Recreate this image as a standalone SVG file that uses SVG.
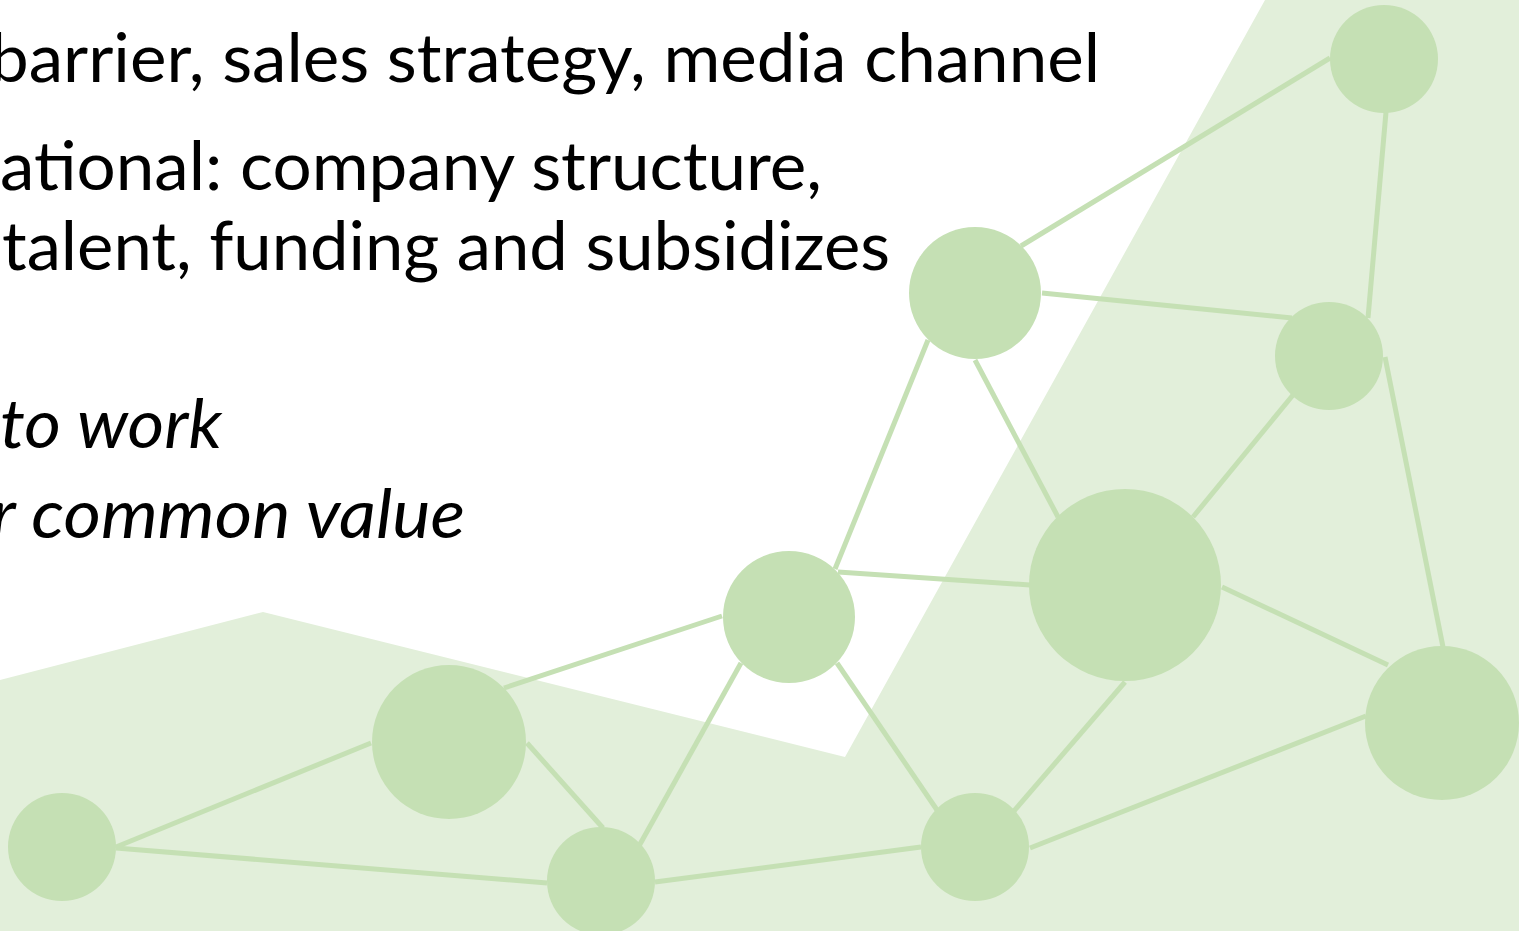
<svg xmlns="http://www.w3.org/2000/svg" width="1519" height="931" viewBox="0 0 1519 931">
<style>
.txt{font-family:Lato,"Open Sans","Liberation Sans",sans-serif;font-size:68px;fill:#000}
.it{font-style:italic}
.node{fill:#c5e0b4}
.edge{stroke:#c5e0b4;stroke-width:5;fill:none}
</style>
<rect width="1519" height="931" fill="#ffffff"/>
<polygon points="0,680 263,612 845,757 1265,0 1519,0 1519,931 0,931" fill="#e2efda"/>
<g id="text">
<text class="txt" x="-10" y="82" textLength="1110" lengthAdjust="spacingAndGlyphs">barrier, sales strategy, media channel</text>
<text class="txt" x="0" y="190" textLength="822" lengthAdjust="spacingAndGlyphs">ational: company structure,</text>
<text class="txt" x="2" y="270" textLength="888" lengthAdjust="spacingAndGlyphs">talent, funding and subsidizes</text>
<text class="txt it" x="0" y="448" textLength="222" lengthAdjust="spacingAndGlyphs">to work</text>
<text class="txt it" x="-9" y="538" textLength="474" lengthAdjust="spacingAndGlyphs">r common value</text>
</g>
<g id="connectors">
<line class="edge" x1="1330" y1="58" x2="1021" y2="246"/>
<line class="edge" x1="1386" y1="112" x2="1368" y2="318"/>
<line class="edge" x1="1042" y1="293" x2="1292" y2="318"/>
<line class="edge" x1="928" y1="340" x2="835" y2="569"/>
<line class="edge" x1="975" y1="360" x2="1058" y2="517"/>
<line class="edge" x1="1293" y1="395" x2="1193" y2="517"/>
<line class="edge" x1="1385" y1="357" x2="1443" y2="647"/>
<line class="edge" x1="838" y1="572" x2="1030" y2="585"/>
<line class="edge" x1="1222" y1="587" x2="1388" y2="665"/>
<line class="edge" x1="1125" y1="682" x2="1014" y2="811"/>
<line class="edge" x1="722" y1="616" x2="504" y2="688"/>
<line class="edge" x1="741" y1="663" x2="639" y2="846"/>
<line class="edge" x1="837" y1="663" x2="937" y2="810"/>
<line class="edge" x1="371" y1="743" x2="116" y2="847"/>
<line class="edge" x1="527" y1="743" x2="603" y2="828"/>
<line class="edge" x1="116" y1="848" x2="547" y2="883"/>
<line class="edge" x1="655" y1="882" x2="921" y2="847"/>
<line class="edge" x1="1030" y1="848" x2="1366" y2="716"/>
</g>
<g id="node-a"><circle class="node" cx="1384" cy="59" r="54"/></g>
<g id="node-b"><circle class="node" cx="975" cy="293" r="66"/></g>
<g id="node-c"><circle class="node" cx="1329" cy="356" r="54"/></g>
<g id="node-d"><circle class="node" cx="1125" cy="585" r="96"/></g>
<g id="node-e"><circle class="node" cx="789" cy="617" r="66"/></g>
<g id="node-f"><circle class="node" cx="449" cy="742" r="77"/></g>
<g id="node-g"><circle class="node" cx="1442" cy="723" r="77"/></g>
<g id="node-h"><circle class="node" cx="62" cy="847" r="54"/></g>
<g id="node-i"><circle class="node" cx="601" cy="881" r="54"/></g>
<g id="node-j"><circle class="node" cx="975" cy="847" r="54"/></g>
</svg>
